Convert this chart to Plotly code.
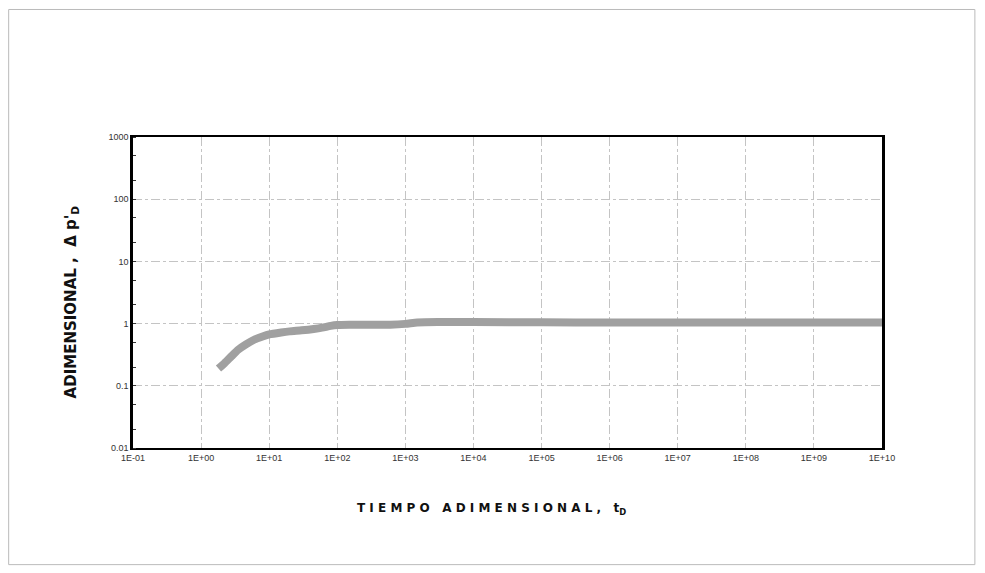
import plotly.graph_objects as go

# Data
t_d = [1.8, 2.2, 2.8, 3.5, 4.5, 6, 8, 10, 15, 20, 30, 45, 60, 80, 100, 150, 300, 600, 1000,
       1500, 3000, 1e4, 1e5, 1e6, 1e7, 1e8, 1e9, 1e10]
p_d = [0.19, 0.23, 0.30, 0.38, 0.46, 0.55, 0.62, 0.67, 0.72, 0.75, 0.78, 0.82, 0.86, 0.92, 0.95,
       0.96, 0.96, 0.96, 0.99, 1.04, 1.06, 1.06, 1.05, 1.04, 1.04, 1.04, 1.04, 1.04]

x_tickvals = [1e-1, 1e0, 1e1, 1e2, 1e3, 1e4, 1e5, 1e6, 1e7, 1e8, 1e9, 1e10]
x_ticktext = ["1E-01", "1E+00", "1E+01", "1E+02", "1E+03", "1E+04", "1E+05",
              "1E+06", "1E+07", "1E+08", "1E+09", "1E+10"]
y_tickvals = [0.01, 0.1, 1, 10, 100, 1000]
y_ticktext = ["0.01", "0.1", "1", "10", "100", "1000"]

fig = go.Figure()
fig.add_trace(go.Scatter(
    x=t_d, y=p_d, mode="lines",
    line=dict(color="#a0a0a0", width=8, shape="spline", smoothing=0.6),
    showlegend=False,
))

fig.update_layout(
    width=977, height=565,
    margin=dict(l=125, r=103, t=129, b=125),
    paper_bgcolor="white", plot_bgcolor="white",
    font=dict(family="Liberation Sans, Arial, sans-serif", color="#222"),
    xaxis=dict(
        type="log", range=[-1, 10],
        tickvals=x_tickvals, ticktext=x_ticktext,
        tickfont=dict(size=9, color="#333"),
        showgrid=True, gridcolor="#c4c4c4", gridwidth=1, griddash="dashdot",
        showline=True, linecolor="black", linewidth=2, mirror=True,
        ticks="", ticklen=0, zeroline=False,
    ),
    yaxis=dict(
        type="log", range=[-2, 3],
        tickvals=y_tickvals, ticktext=y_ticktext,
        tickfont=dict(size=9, color="#333"),
        showgrid=True, gridcolor="#c4c4c4", gridwidth=1, griddash="dashdot",
        showline=True, linecolor="black", linewidth=2.5, mirror=True,
        ticks="", zeroline=False,
        minor=dict(ticks="inside", ticklen=3, tickcolor="#333", showgrid=False),
    ),
    annotations=[
        dict(text="<b>T I E M P O   A D I M E N S I O N A L ,   t<sub>D</sub></b>",
             xref="paper", yref="paper", x=0.478, y=-0.196, showarrow=False,
             font=dict(size=12, color="#111", family="DejaVu Sans"),
             xanchor="center", yanchor="middle"),
        dict(text="<b>ADIMENSIONAL ,  Δ p'<sub>D</sub></b>",
             xref="paper", yref="paper", x=-0.082, y=0.47, showarrow=False,
             textangle=-90, font=dict(size=15, color="#111", family="DejaVu Sans"),
             xanchor="center", yanchor="middle"),
    ],
    shapes=[
        dict(type="rect", xref="paper", yref="paper",
             x0=-0.166, x1=1.124, y0=-0.375, y1=1.41,
             line=dict(color="#bbbbbb", width=1)),
    ],
)

fig.write_html("out.html")
